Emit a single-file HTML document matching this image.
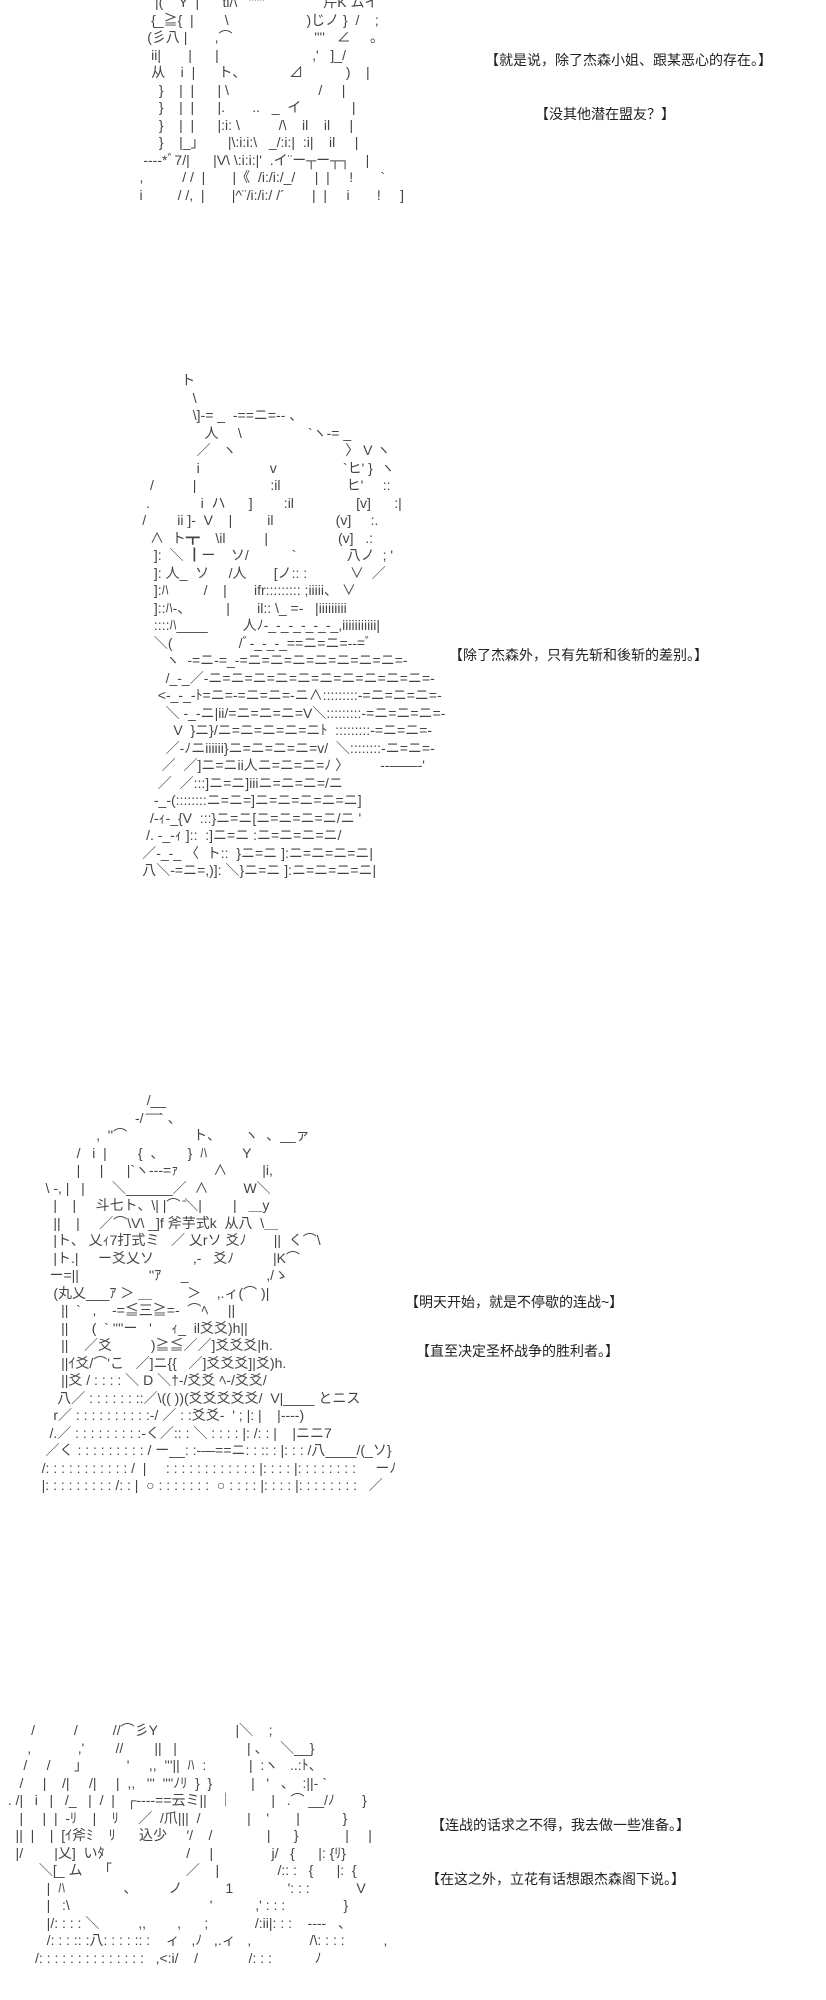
<!DOCTYPE html>
<html><head><meta charset="utf-8"><style>
html,body{margin:0;padding:0;background:#fff;}
body{width:826px;height:2000px;position:relative;overflow:hidden;}
pre{position:absolute;margin:0;font-family:"Liberation Sans","Noto Sans CJK JP",sans-serif;font-size:14px;line-height:17.5px;color:#444;white-space:pre;}
.t{position:absolute;font-family:"Liberation Sans","Noto Sans CJK SC",sans-serif;font-size:14px;color:#222;white-space:nowrap;}
</style></head><body>
<pre style="left:120px;top:-6px">         |(    Y  |      ti/\   ''''''               芹K ムイ
        {_≧{  |        \                    )じノ }  /    ;
       (彡八 |       ,⌒                     ''''   ∠     。
        ii|       |      |                        ,'   ]_/
        从    i  |      ト、           ⊿           )    |
          }    |  |      | \                       /     |
          }    |  |      |.       ..   _  イ             |
          }    |  |      |:i: \          /\    il    il     |
          }    |_」      |\:i:i:\   _/:i:|  :i|    il     |
      --‐‐*ﾞ7/|      |V\ \:i:i:|'  .イ¨ー┬ー┬┐    |
     ,          / /  |       |《  /i:/i:/_/     |  |     !       `
     i         / /,  |       |^¨/i:/i:/ /´       |  |     i       !     ]</pre>
<pre style="left:115px;top:372px">                 ト
                    \
                    \]-= _  -==ニ=-- 、
                       人     \                 `ヽ-= _
                     ／   ヽ                            〉 V ヽ
                     i                  v                 `ヒ' }  ヽ
         /          |                   :il                 ヒ'     ::
        .             i  ハ      ]        :il                [v]      :|
       /        ii ]-  V    |         il                (v]     :.
         ∧  ト┳    \il          |                  (v]   .:
          ]:  ＼ ┃ー    ソ/           `             八ノ  ; '
          ]: 人_  ソ     /人       [ノ:: :           ∨  ／
          ]:ﾊ         /    |       ifr::::::::: ;iiiii、 ∨
          ]::ﾊ-、         |       il:: \_ =-   |iiiiiiiii
          ::::ﾊ____         人ﾉ-_-_-_-_-_-_,iiiiiiiiiii|
          ＼(                 /ﾞ-_-_-_==ニ=ニ=--=ﾞ
             ヽ  -=ニ-=_-=ニ=ニ=ニ=ニ=ニ=ニ=ニ=-
             /_-_／-ニ=ニ=ニ=ニ=ニ=ニ=ニ=ニ=ニ=ニ=-
           <-_-_-ﾄ=ニ=-=ニ=ニ=-ニ∧:::::::::-=ニ=ニ=ニ=-
             ＼ -_-ニ|ii/=ニ=ニ=ニ=V＼:::::::::-=ニ=ニ=ニ=-
               V  }ニ}/ニ=ニ=ニ=ニ=ニﾄ  :::::::::-=ニ=ニ=-
             ／-ﾉニiiiiii}ニ=ニ=ニ=ニ=v/  ＼::::::::-ニ=ニ=-
            ／  ／]ニ=ニii人ニ=ニ=ニ=ﾉ 〉        --――‐'
           ／  ／:::]ニ=ニ]iiiニ=ニ=ニ=/ニ
          -_-(::::::::ニ=ニ=]ニ=ニ=ニ=ニ=ニ]
         /-ｨ-_{V  :::}ニ=ニ[ニ=ニ=ニ=ニ/ニ '
        /. -_-ｨ ]::  :]ニ=ニ :ニ=ニ=ニ=ニ/
       ／-_-_ 〈  ト::  }ニ=ニ ]:ニ=ニ=ニ=ニ|
       八＼-=ニ=,)]: ＼}ニ=ニ ]:ニ=ニ=ニ=ニ|</pre>
<pre style="left:30px;top:1092px">                              /__
                           -/ ̄ ̄ ̄ ̄` 、
                 ,  ''⌒                 ト、      ヽ  、__ァ
            /   i  |        {  、      }  ﾊ         Y
            |     |      |`ヽ---=ｧ         ∧         |i,
    \ -, |   |       ＼______／  ∧         W＼
      |    |     斗七ト、\| |⌒ ̄＼|        |   ＿y
      ||    |     ／⌒\V\ _]f 斧芋式k  从八  \＿
      |ト、 乂ｨ𝅶7打式ミ   ／ 乂rソ 爻ﾉ       ||  く⌒\
      |ト.|     ー爻乂ソ          ,-   爻ﾉ          |K⌒
     ー=||                  ''ｱ     _                    ,/ゝ
      (丸乂___ｱ ＞ ＿         ＞    ,.ィ(⌒ )|
        ||  `   ,    -=≦三≧=-  ⌒ﾍ     ||
        ||      (  ` ''''ー   '     ｨ_  il爻爻)h||
        ||    ／爻          )≧≦／／]爻爻爻|h.
        ||ｲ爻/⌒'こ   ／]ニ{{   ／]爻爻爻]|爻)h.
        ||爻 / : : : : ＼ D ＼†‐/爻爻 ﾍ‐/爻爻/
       八／ : : : : : : ::／\(( ))(爻爻爻爻爻/  V|____ とニス
      r／ : : : : : : : : : :-/ ／ : :爻爻-  ' ; |: |    |‐‐‐‐)
     /.／ : : : : : : : : :-く／:: : ＼ : : : : |: /: : |    |ニニ7
    ／く : : : : : : : : : / ー__: :-―==ニ: : :: : |: : : /八____/(_ソ}
   /: : : : : : : : : : : /  |     : : : : : : : : : : : : |: : : : |: : : : : : : :     ーﾉ
   |: : : : : : : : : /: : |  ○ : : : : : : :  ○ : : : : |: : : : |: : : : : : : :   ／</pre>
<pre style="left:0px;top:1722px">        /          /         //⌒彡Y                    |＼    ;
       ,            ,'        //        ||   |                  | 、   ＼__}
      /     /      」          '     ,,  '''||  ﾊ  :           |  :ヽ   ..:ﾄ、
     /     |    /|     /|     |  ,,   '''  ''''ﾉﾘ  }  }          |   '   、  :||‐ `
  . /|   i   |   /_   |  /  |   ┌‐‐‐‐==云ミ||   ｜          |   .⌒ __/ﾉ       }
     |     |  |  ‐ﾘ    |    ﾘ     ／  /爪|||  /            |    '       |           }
    ||  |    |  [ｲ斧ﾐ    ﾘ      込少     ′/    /              |      }            |     |
    |/        |乂]  いﾀ                     /     |               j/   {      |: {ﾘ}
          ＼[_ ム    「                   ／    |               /:: :   {      |:  {
            |  ﾊ               、        ノ           1              ': : :            V
            |   :\                                    '           ,' : : :               }
            |/: : : : ＼          ,,        ,      ;            /:ii|: : :    ----   、
            /: : : :: :八: : : : :: :    ィ   ,ﾉ   ,.ィ   ,               /\: : : :          ,
         /: : : : : : : : : : : : : :   ,<:i/    /             /: : :           ﾉ</pre>
<div class="t" style="left:485px;top:50px">【就是说，除了杰森小姐、跟某恶心的存在。】</div>
<div class="t" style="left:535px;top:104px">【没其他潜在盟友？】</div>
<div class="t" style="left:449px;top:645px">【除了杰森外，只有先斩和後斩的差别。】</div>
<div class="t" style="left:405px;top:1292px">【明天开始，就是不停歇的连战~】</div>
<div class="t" style="left:416px;top:1341px">【直至决定圣杯战争的胜利者。】</div>
<div class="t" style="left:431px;top:1815px">【连战的话求之不得，我去做一些准备。】</div>
<div class="t" style="left:426px;top:1869px">【在这之外，立花有话想跟杰森阁下说。】</div>
</body></html>
